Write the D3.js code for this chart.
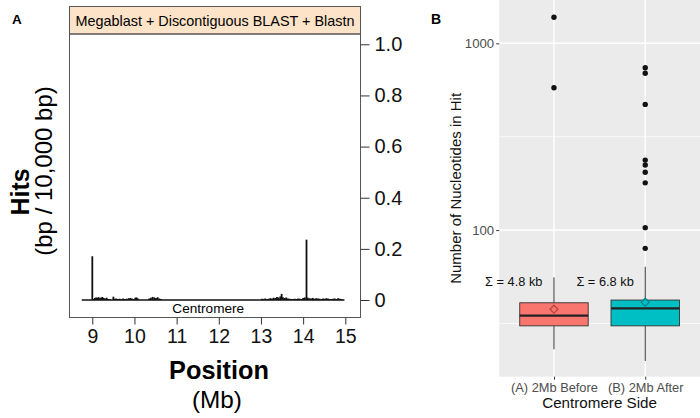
<!DOCTYPE html>
<html><head><meta charset="utf-8">
<script src="https://cdn.jsdelivr.net/npm/d3@7"></script>
<style>body{margin:0;background:#fff}svg{display:block;font-family:"Liberation Sans",Arial,sans-serif}</style>
</head><body><svg id="c" width="700" height="418"></svg>
<script>
// ---------- Panel A data ----------
const stripTitle = "Megablast + Discontiguous BLAST + Blastn";
const xTicksA = [9, 10, 11, 12, 13, 14, 15];
const yTicksA = [0, 0.2, 0.4, 0.6, 0.8, 1.0];
const baselineExtent = [8.75, 14.98];
const hitPos = [9.00,9.03,9.06,9.09,9.12,9.15,9.18,9.21,9.24,9.27,9.30,9.34,9.38,9.42,9.50,9.53,9.57,9.61,9.65,9.69,9.73,9.77,9.81,9.86,9.90,9.94,9.98,10.02,10.05,10.08,10.35,10.39,10.43,10.47,10.51,10.55,10.59,10.63,
  13.02,13.06,13.10,13.14,13.18,13.22,13.26,13.30,13.34,13.38,13.42,13.46,13.49,13.52,13.56,13.60,13.64,13.68,13.72,13.76,13.80,13.84,13.88,13.92,13.96,14.00,14.04,14.08,14.11,14.15,14.19,14.23,14.27,14.31,14.35,14.39,14.43,14.47,14.51,14.55,14.59,14.63,14.67,14.71,14.75,14.79,14.83,14.87,14.91];
const hitVal = [0.171,0.004,0.008,0.010,0.009,0.011,0.007,0.010,0.012,0.008,0.006,0.009,0.004,0.003,0.013,0.005,0.006,0.004,0.005,0.003,0.006,0.004,0.005,0.007,0.008,0.006,0.004,0.009,0.010,0.006,0.006,0.009,0.012,0.010,0.008,0.011,0.006,0.004,
  0.005,0.004,0.006,0.003,0.005,0.007,0.006,0.009,0.008,0.012,0.010,0.014,0.024,0.011,0.008,0.010,0.006,0.005,0.004,0.003,0.005,0.004,0.006,0.005,0.004,0.008,0.010,0.236,0.009,0.007,0.006,0.008,0.005,0.007,0.006,0.005,0.004,0.006,0.005,0.007,0.006,0.004,0.003,0.005,0.006,0.004,0.007,0.005,0.004];
const centromereLabelPos = 11.75;

// ---------- Panel B data ----------
const categories = ["(A) 2Mb Before", "(B) 2Mb After"];
const boxFill = ["#F8766D", "#00BFC4"];
const meanStroke = ["#B8463F", "#00858A"];
const q1 = [30.7, 30.7];
const median = [34.8, 38.1];
const q3 = [40.8, 42.2];
const whiskerLow = [23.0, 19.9];
const whiskerHigh = [55.8, 63.6];
const means = [37.7, 41.1];
const outliersA = [1378, 578];
const outliersB = [740, 691, 471, 237, 223, 204, 179, 103, 79.8];
const sumLabels = ["\u03A3 = 4.8 kb", "\u03A3 = 6.8 kb"];
const yTicksB = [100, 1000];
const yMinorB = [31.62, 316.2];

const svg = d3.select("#c");

// ================= Panel A =================
const xA = d3.scaleLinear().domain([9, 15]).range([92.3, 345.3]);
const yA = d3.scaleLinear().domain([0, 1]).range([300, 44.3]);
const fL = 69.5, fR = 360.5, fT = 6.5, fStrip = 34, fB = 317.5;

svg.append("text").attr("x", 12).attr("y", 24).attr("font-size", 13.5).attr("font-weight", "bold").text("A");

svg.append("rect").attr("x", fL).attr("y", fT).attr("width", fR - fL).attr("height", fStrip - fT)
  .attr("fill", "#FDE3C8").attr("stroke", "#555").attr("stroke-width", 1);
svg.append("text").attr("x", (fL + fR) / 2).attr("y", 26).attr("text-anchor", "middle")
  .attr("font-size", 14.4).text(stripTitle);
svg.append("rect").attr("x", fL).attr("y", fStrip).attr("width", fR - fL).attr("height", fB - fStrip)
  .attr("fill", "none").attr("stroke", "#555").attr("stroke-width", 1);

// baseline
svg.append("line").attr("x1", xA(baselineExtent[0])).attr("x2", xA(baselineExtent[1]))
  .attr("y1", yA(0)).attr("y2", yA(0)).attr("stroke", "#111").attr("stroke-width", 1.5);
// hits (type h)
svg.append("g").selectAll("line").data(hitPos).join("line")
  .attr("x1", d => xA(d)).attr("x2", d => xA(d))
  .attr("y1", yA(0)).attr("y2", (d, i) => yA(hitVal[i]))
  .attr("stroke", "#111").attr("stroke-width", 1.8);

svg.append("text").attr("x", xA(centromereLabelPos)).attr("y", 313).attr("text-anchor", "middle")
  .attr("font-size", 13.6).text("Centromere");

// right y axis
const yAxA = svg.append("g").attr("transform", `translate(${fR},0)`)
  .call(d3.axisRight(yA).tickValues(yTicksA).tickSize(9).tickPadding(5)
    .tickFormat(d => d === 0 ? "0" : d3.format(".1f")(d)));
yAxA.select(".domain").remove();
yAxA.selectAll("line").attr("stroke", "#333");
yAxA.selectAll("text").attr("font-size", 20).attr("fill", "#111").attr("font-family", "Liberation Sans, Arial, sans-serif");

// bottom x axis
const xAxA = svg.append("g").attr("transform", `translate(0,${fB})`)
  .call(d3.axisBottom(xA).tickValues(xTicksA).tickSize(7).tickPadding(5).tickFormat(d3.format("d")));
xAxA.select(".domain").remove();
xAxA.selectAll("line").attr("stroke", "#333");
xAxA.selectAll("text").attr("font-size", 19.5).attr("fill", "#111").attr("font-family", "Liberation Sans, Arial, sans-serif");

svg.append("text").attr("x", 219).attr("y", 379).attr("text-anchor", "middle")
  .attr("font-size", 25.3).attr("font-weight", "bold").text("Position");
svg.append("text").attr("x", 217).attr("y", 408).attr("text-anchor", "middle")
  .attr("font-size", 24.3).text("(Mb)");
svg.append("text").attr("transform", "translate(29,192) rotate(-90)").attr("text-anchor", "middle")
  .attr("font-size", 25).attr("font-weight", "bold").text("Hits");
svg.append("text").attr("transform", "translate(52,171) rotate(-90)").attr("text-anchor", "middle")
  .attr("font-size", 24).text("(bp / 10,000 bp)");

// ================= Panel B =================
const pL = 499.2, pR = 700, pT = 0, pB = 376.7;
const xB = d3.scalePoint().domain(categories).range([pL, pR]).padding(0.6);
const step = xB.step();
const yB = d3.scaleLog().domain([16.4, 1706]).range([pB, pT]);

svg.append("text").attr("x", 431).attr("y", 24).attr("font-size", 14).attr("font-weight", "bold").text("B");

svg.append("rect").attr("x", pL).attr("y", pT).attr("width", pR - pL).attr("height", pB - pT).attr("fill", "#EBEBEB");
svg.append("g").selectAll("line").data(yMinorB).join("line")
  .attr("x1", pL).attr("x2", pR).attr("y1", d => yB(d)).attr("y2", d => yB(d))
  .attr("stroke", "#fff").attr("stroke-width", 0.7);
svg.append("g").selectAll("line").data(yTicksB).join("line")
  .attr("x1", pL).attr("x2", pR).attr("y1", d => yB(d)).attr("y2", d => yB(d))
  .attr("stroke", "#fff").attr("stroke-width", 1.4);
svg.append("g").selectAll("line").data(categories).join("line")
  .attr("x1", d => xB(d)).attr("x2", d => xB(d)).attr("y1", pT).attr("y2", pB)
  .attr("stroke", "#fff").attr("stroke-width", 1.4);

const bw = step * 0.75;
const boxes = svg.append("g").selectAll("g").data(categories).join("g");
boxes.append("line").attr("x1", d => xB(d)).attr("x2", d => xB(d))
  .attr("y1", (d, i) => yB(whiskerHigh[i])).attr("y2", (d, i) => yB(q3[i]))
  .attr("stroke", "#333").attr("stroke-width", 1);
boxes.append("line").attr("x1", d => xB(d)).attr("x2", d => xB(d))
  .attr("y1", (d, i) => yB(q1[i])).attr("y2", (d, i) => yB(whiskerLow[i]))
  .attr("stroke", "#333").attr("stroke-width", 1);
boxes.append("rect").attr("x", d => xB(d) - bw / 2).attr("width", bw)
  .attr("y", (d, i) => yB(q3[i])).attr("height", (d, i) => yB(q1[i]) - yB(q3[i]))
  .attr("fill", (d, i) => boxFill[i]).attr("stroke", "#333").attr("stroke-width", 0.9);
boxes.append("line").attr("x1", d => xB(d) - bw / 2).attr("x2", d => xB(d) + bw / 2)
  .attr("y1", (d, i) => yB(median[i])).attr("y2", (d, i) => yB(median[i]))
  .attr("stroke", "#222").attr("stroke-width", 2.2);
boxes.append("path")
  .attr("d", d3.symbol().type(d3.symbolDiamond2).size(40))
  .attr("transform", (d, i) => `translate(${xB(d)},${yB(means[i])})`)
  .attr("fill", (d, i) => boxFill[i]).attr("stroke", (d, i) => meanStroke[i]).attr("stroke-width", 1.3);

const outliers = [outliersA, outliersB];
outliers.forEach((arr, i) => {
  svg.append("g").selectAll("circle").data(arr).join("circle")
    .attr("cx", xB(categories[i])).attr("cy", d => yB(d)).attr("r", 2.7).attr("fill", "#111");
});

svg.append("g").selectAll("text").data(sumLabels).join("text")
  .attr("x", (d, i) => xB(categories[i]) - 0.44 * step).attr("y", yB(50))
  .attr("text-anchor", "middle").attr("font-size", 12.8).attr("fill", "#111").text(d => d);

// y axis B
const yAxB = svg.append("g").attr("transform", `translate(${pL},0)`)
  .call(d3.axisLeft(yB).tickValues(yTicksB).tickSize(3).tickPadding(2).tickFormat(d3.format("d")));
yAxB.select(".domain").remove();
yAxB.selectAll("line").attr("stroke", "#333");
yAxB.selectAll("text").attr("font-size", 13.2).attr("fill", "#4D4D4D").attr("font-family", "Liberation Sans, Arial, sans-serif");

// x axis B
const xAxB = svg.append("g").attr("transform", `translate(0,${pB})`)
  .call(d3.axisBottom(xB).tickSize(3).tickPadding(3));
xAxB.select(".domain").remove();
xAxB.selectAll("line").attr("stroke", "#333");
xAxB.selectAll("text").attr("font-size", 12.8).attr("fill", "#4D4D4D").attr("font-family", "Liberation Sans, Arial, sans-serif");

svg.append("text").attr("x", (pL + pR) / 2).attr("y", 408).attr("text-anchor", "middle")
  .attr("font-size", 15.2).attr("fill", "#111").text("Centromere Side");
svg.append("text").attr("transform", `translate(461,${(pT + pB) / 2}) rotate(-90)`).attr("text-anchor", "middle")
  .attr("font-size", 15).attr("fill", "#111").text("Number of Nucleotides in Hit");
</script></body></html>
